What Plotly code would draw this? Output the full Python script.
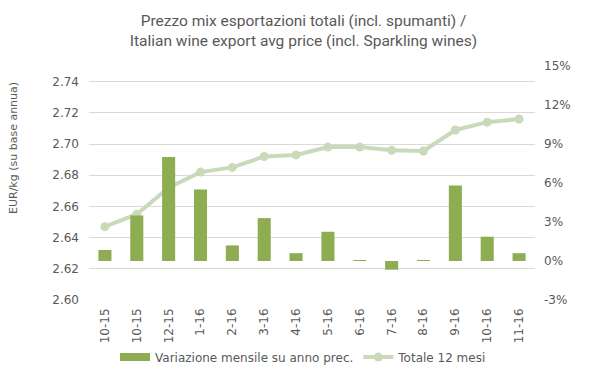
import plotly.graph_objects as go

categories = ["10-15", "10-15", "12-15", "1-16", "2-16", "3-16", "4-16",
              "5-16", "6-16", "7-16", "8-16", "9-16", "10-16", "11-16"]
var_mensile = [0.85, 3.5, 8.0, 5.5, 1.2, 3.3, 0.6, 2.25, 0.05, -0.67, 0.05, 5.8, 1.87, 0.6]
totale_12m = [2.647, 2.655, 2.672, 2.682, 2.685, 2.692, 2.693,
              2.698, 2.698, 2.696, 2.6955, 2.709, 2.714, 2.716]
left_ticks = [2.60, 2.62, 2.64, 2.66, 2.68, 2.70, 2.72, 2.74]
right_ticks = [-3, 0, 3, 6, 9, 12, 15]

x = list(range(len(categories)))
grey = "#595959"
FONT = "DejaVu Sans"
BAR_COLOR = "#8EAD52"
LINE_COLOR = "#C9DABA"
tick_font = dict(family=FONT, size=12, color=grey)

fig = go.Figure()
fig.add_trace(go.Bar(
    x=x, y=var_mensile, name="Variazione mensile su anno prec.",
    marker=dict(color=BAR_COLOR, line=dict(width=0)), width=0.41,
    yaxis="y2", showlegend=False,
))
# legend swatch (wide rectangle like the original)
fig.add_trace(go.Scatter(
    x=[None], y=[None], mode="lines", name="Variazione mensile su anno prec.",
    line=dict(color=BAR_COLOR, width=8), yaxis="y2",
))
fig.add_trace(go.Scatter(
    x=x, y=totale_12m, name="Totale 12 mesi", mode="lines+markers",
    line=dict(color=LINE_COLOR, width=4), marker=dict(color=LINE_COLOR, size=9),
    yaxis="y",
))

fig.update_layout(
    width=591, height=370,
    margin=dict(l=81, r=64, t=58, b=78, autoexpand=False),
    paper_bgcolor="white", plot_bgcolor="white",
    title=dict(
        text="Prezzo mix esportazioni totali (incl. spumanti) /<br>Italian wine export avg price (incl. Sparkling wines)",
        x=0.5, xanchor="center", y=1 - 18 / 370, yanchor="middle", yref="container",
        font=dict(family="Roboto", size=15.5, color=grey),
    ),
    xaxis=dict(
        tickmode="array", tickvals=x, ticktext=categories, tickangle=-90,
        range=[-0.5, len(categories) - 0.5], showgrid=False, zeroline=False,
        showline=False, ticks="", tickfont=tick_font, automargin=False,
        ticklabelstandoff=5,
    ),
    yaxis=dict(
        range=[2.60, 2.75], tickmode="array", tickvals=left_ticks,
        ticktext=[f"{v:.2f}" for v in left_ticks],
        showgrid=True, gridcolor="#D9D9D9", gridwidth=1, zeroline=False,
        showline=False, ticks="", tickfont=tick_font, ticklabelstandoff=9,
        automargin=False,
    ),
    yaxis2=dict(
        range=[-3, 15], overlaying="y", side="right", tickmode="array",
        tickvals=right_ticks, ticktext=[f"{v}%" for v in right_ticks],
        showgrid=False, zeroline=False, showline=False, ticks="",
        tickfont=tick_font, ticklabelstandoff=8, automargin=False,
    ),
    legend=dict(
        orientation="h", x=0.5, xanchor="center", y=21 / 370, yanchor="middle",
        yref="container", xref="container",
        font=dict(family=FONT, size=12, color=grey),
    ),
    annotations=[dict(
        text="EUR/kg (su base annua)", textangle=-90, showarrow=False,
        xref="paper", yref="paper", x=(5 - 81) / 446, y=(292 - 140) / 234,
        xanchor="center", yanchor="middle",
        font=dict(family=FONT, size=11, color=grey),
    )],
)

fig.write_html("out.html")
